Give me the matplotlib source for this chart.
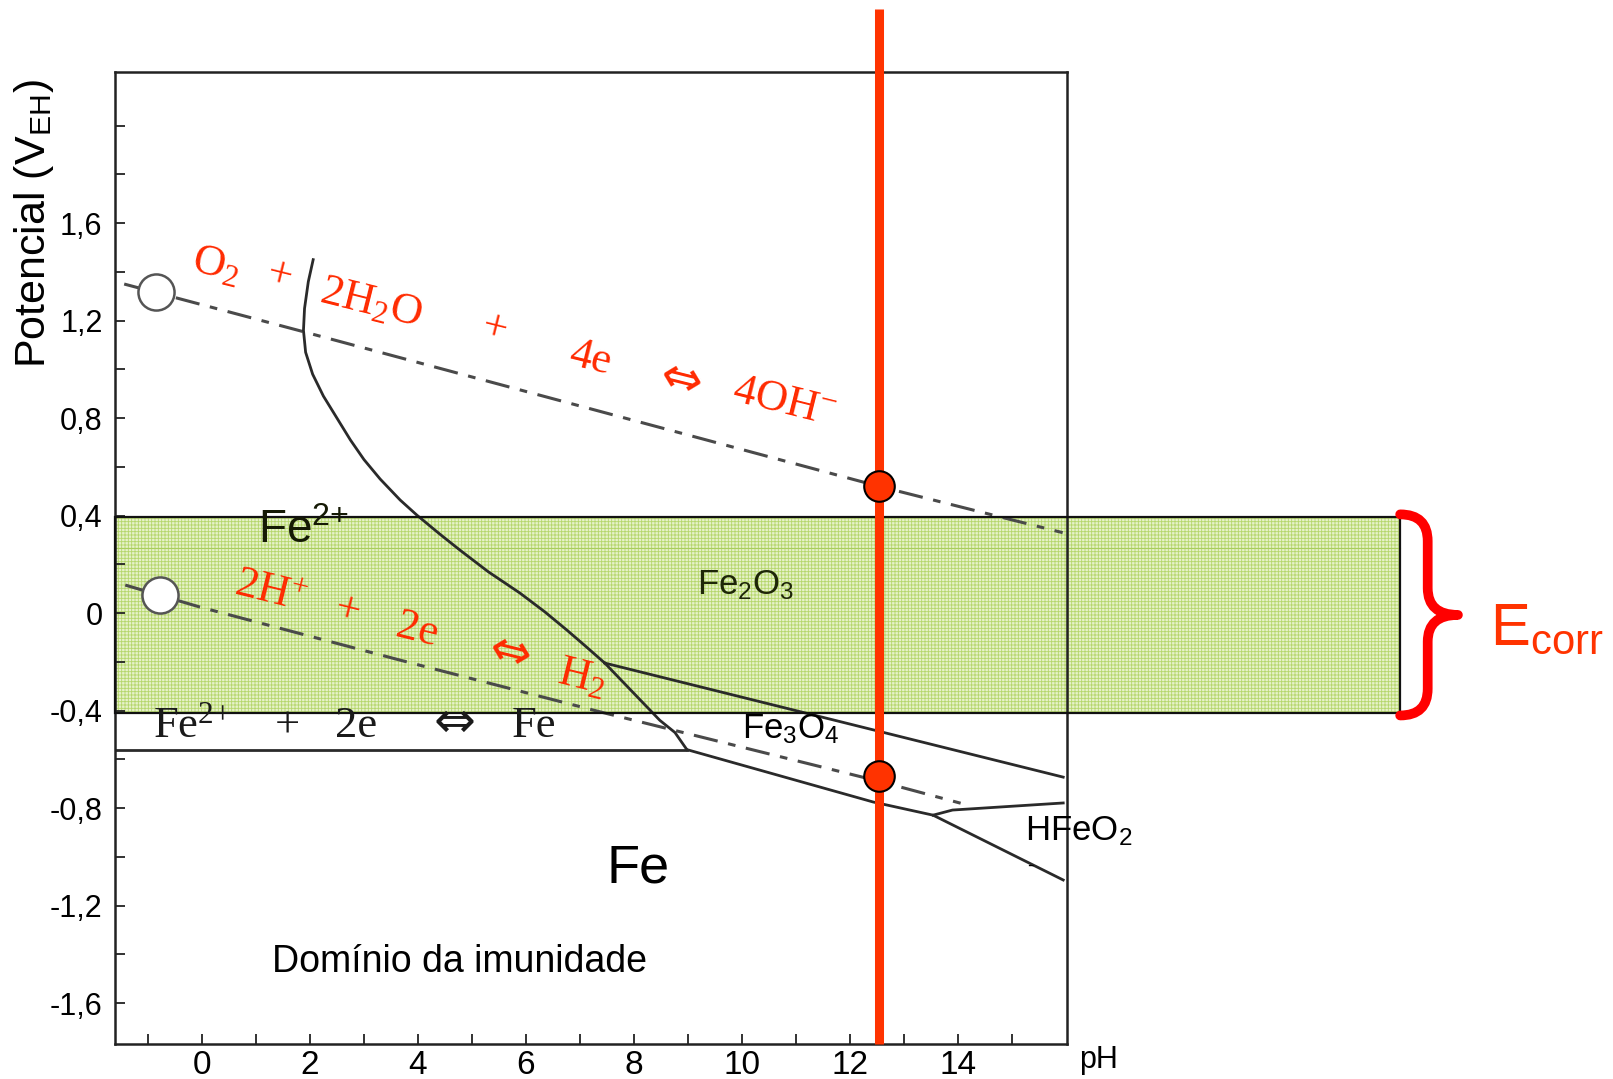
import matplotlib
matplotlib.use("Agg")
import matplotlib.pyplot as plt
from matplotlib.patches import Rectangle, PathPatch
from matplotlib.path import Path

# --- limites dos eixos ---
PH_MIN, PH_MAX = -1.61, 16.02
E_MIN, E_MAX = -1.768, 2.22

# linha O2 / H2O (tracejada)
ph_o2 = [-1.44, 1.87, 12.54, 15.94]
e_o2 = [1.35, 1.155, 0.52, 0.33]

# linha H+ / H2 (tracejada)
ph_h2 = [-1.42, -0.04, 3.67, 7.37, 12.54, 14.05]
e_h2 = [0.115, 0.025, -0.193, -0.405, -0.69, -0.78]

# circulos de referencia nas linhas da agua
ph_ref = [-0.85, -0.78]
e_ref = [1.317, 0.075]

# fronteira Fe2+ / Fe2O3
ph_fe2_fe2o3 = [2.06, 1.97, 1.90, 1.88, 1.92, 2.05, 2.25, 2.50, 2.75, 3.00,
                3.30, 3.67, 3.98, 4.40, 4.78, 5.30, 5.89, 6.35, 6.76, 7.10, 7.46]
e_fe2_fe2o3 = [1.45, 1.36, 1.25, 1.16, 1.07, 0.98, 0.89, 0.80, 0.71, 0.63,
               0.55, 0.464, 0.402, 0.325, 0.258, 0.17, 0.082, 0.005, -0.07,
               -0.135, -0.205]

# fronteira Fe2+ / Fe3O4
ph_fe2_fe3o4 = [7.46, 8.48, 8.76, 8.98]
e_fe2_fe3o4 = [-0.205, -0.44, -0.49, -0.56]

# fronteira Fe2+ / Fe
ph_fe2_fe = [PH_MIN, 8.98]
e_fe2_fe = [-0.56, -0.56]

# fronteira Fe2O3 / Fe3O4
ph_fe2o3_fe3o4 = [7.46, 15.95]
e_fe2o3_fe3o4 = [-0.205, -0.673]

# fronteira Fe3O4 / Fe
ph_fe3o4_fe = [8.98, 12.43, 13.54, 15.95]
e_fe3o4_fe = [-0.56, -0.775, -0.829, -1.095]

# fronteira Fe3O4 / HFeO2-
ph_fe3o4_hfeo2 = [13.54, 13.9, 15.95]
e_fe3o4_hfeo2 = [-0.829, -0.808, -0.779]

# faixa de Ecorr e pH do concreto
E_BAND = (-0.41, 0.395)
BAND_RIGHT = 22.19
PH_RED = 12.54
e_red_points = [0.52, -0.67]

x_ticks = [0, 2, 4, 6, 8, 10, 12, 14]
x_minor = [-1, 1, 3, 5, 7, 9, 11, 13, 15]
y_ticks = [-1.6, -1.2, -0.8, -0.4, 0, 0.4, 0.8, 1.2, 1.6]
y_labels = ["-1,6", "-1,2", "-0,8", "-0,4", "0", "0,4", "0,8", "1,2", "1,6"]
y_minor = [-1.4, -1.0, -0.6, -0.2, 0.2, 0.6, 1.0, 1.4, 1.8, 2.0]

# textos das reacoes (token, pH, E)
ARROW = "\u21d4"
o2_tokens = ["O$_2$", "+", "2H$_2$O", "+", "4e", ARROW, "4OH$^{-}$"]
o2_ph = [0.26, 1.43, 3.13, 5.41, 7.19, 8.87, 10.78]
o2_e = [1.428, 1.378, 1.272, 1.161, 1.046, 0.956, 0.866]

h2_tokens = ["2H$^{+}$", "+", "2e", ARROW, "H$_2$"]
h2_ph = [1.26, 2.70, 3.98, 5.70, 7.04]
h2_e = [0.086, 0.004, -0.07, -0.164, -0.263]

fe_tokens = ["Fe$^{2{+}}$", "+", "2e", ARROW, "Fe"]
fe_ph = [-0.91, 1.59, 2.46, 4.67, 5.74]
fe_ha = ["left", "center", "left", "center", "left"]
E_FE_TEXT = -0.509

plt.rcParams["mathtext.default"] = "regular"
plt.rcParams["font.family"] = ["Liberation Sans", "DejaVu Sans"]
plt.rcParams["hatch.linewidth"] = 0.6

SERIF = ["Liberation Serif", "DejaVu Serif"]
RED_TXT = "#ff2a00"
RED = "#ff3300"

fig = plt.figure(figsize=(16.13, 10.79), dpi=100)
ax = fig.add_axes([0.0713, 0.0324, 0.5902, 0.9009])
ax.set_xlim(PH_MIN, PH_MAX)
ax.set_ylim(E_MIN, E_MAX)

# --- faixa verde ---
band_h = E_BAND[1] - E_BAND[0]
ax.add_patch(Rectangle((PH_MIN, E_BAND[0]), BAND_RIGHT - PH_MIN, band_h,
                       facecolor="#e6f2c8", edgecolor="#b5d66c", hatch="+++++",
                       lw=0, clip_on=False, zorder=1))
ax.plot([PH_MIN, BAND_RIGHT], [0.265, 0.265], color="#a9cd5c", lw=0.8,
        clip_on=False, zorder=1.1)
ax.add_patch(Rectangle((PH_MIN, E_BAND[0]), BAND_RIGHT - PH_MIN, band_h,
                       fill=False, edgecolor="#111111", lw=1.6,
                       clip_on=False, zorder=3))

# --- linhas do diagrama ---
dash = (0, (8, 3.5, 2.5, 3.5))
ax.plot(ph_o2, e_o2, color="#4a4a4a", lw=2.2, linestyle=dash, zorder=2)
ax.plot(ph_h2, e_h2, color="#4a4a4a", lw=2.2, linestyle=dash, zorder=2)
ax.plot(ph_ref, e_ref, "o", ms=26, mfc="white", mec="#555555", mew=1.8, zorder=2.2)

solid = dict(color="#2a2a2a", lw=2.0, zorder=2)
ax.plot(ph_fe2_fe2o3, e_fe2_fe2o3, **solid)
ax.plot(ph_fe2_fe3o4, e_fe2_fe3o4, **solid)
ax.plot(ph_fe2_fe, e_fe2_fe, **solid)
ax.plot(ph_fe2o3_fe3o4, e_fe2o3_fe3o4, **solid)
ax.plot(ph_fe3o4_fe, e_fe3o4_fe, **solid)
ax.plot(ph_fe3o4_hfeo2, e_fe3o4_hfeo2, **solid)


def token(x, y, tok, color, rot, ha="center", va="center"):
    if tok == ARROW:
        ax.text(x, y, tok, family="DejaVu Sans", fontsize=36, color=color,
                rotation=rot, rotation_mode="anchor", ha="center", va=va, zorder=4)
    else:
        ax.text(x, y, tok, family=SERIF, fontsize=32, color=color,
                rotation=rot, rotation_mode="anchor", ha=ha, va=va, zorder=4)


# --- reacoes ---
for tok, x, y in zip(o2_tokens, o2_ph, o2_e):
    token(x, y, tok, RED_TXT, -14)
for tok, x, y in zip(h2_tokens, h2_ph, h2_e):
    token(x, y, tok, RED_TXT, -14)
for tok, x, h in zip(fe_tokens, fe_ph, fe_ha):
    token(x, E_FE_TEXT, tok, "#1a1a1a", 0, ha=h, va="baseline")

# --- nomes das especies ---
ax.text(1.04, 0.287, "Fe$^{2{+}}$", fontsize=33, color="#151a05", va="baseline", zorder=4)
ax.text(9.17, 0.078, "Fe$_2$O$_3$", fontsize=25, color="#1e2608", va="baseline", zorder=4)
ax.text(10.0, -0.513, "Fe$_3$O$_4$", fontsize=25, color="black", va="baseline", zorder=4)
ax.text(15.24, -0.931, "HFeO$_2$", fontsize=25, color="black", va="baseline",
        clip_on=False, zorder=4)
ax.text(15.28, -1.04, "-", fontsize=14, color="black", va="center", zorder=4)
ax.text(7.5, -1.104, "Fe", fontsize=39, color="black", va="baseline", zorder=4)
ax.text(1.30, -1.473, "Domínio da imunidade", fontsize=27, color="black",
        va="baseline", zorder=4)

# --- linha vermelha (pH do concreto) ---
ax.plot([PH_RED, PH_RED], [E_MIN, 2.48], color=RED, lw=6.5, clip_on=False,
        solid_capstyle="butt", zorder=5)
ax.plot([PH_RED] * len(e_red_points), e_red_points, "o", ms=22, mfc=RED,
        mec="black", mew=1.5, zorder=6)

# --- chave do Ecorr ---
x0, x1, x2 = BAND_RIGHT, 22.70, 23.26
top, bot = E_BAND[1] + 0.01, E_BAND[0] - 0.01
mid = (top + bot) / 2
r = 0.11
verts = [(x0, top), (x1, top), (x1, top - r),
         (x1, mid + r),
         (x1, mid), (x2, mid),
         (x1, mid), (x1, mid - r),
         (x1, bot + r),
         (x1, bot), (x0, bot)]
codes = [Path.MOVETO, Path.CURVE3, Path.CURVE3,
         Path.LINETO,
         Path.CURVE3, Path.CURVE3,
         Path.CURVE3, Path.CURVE3,
         Path.LINETO,
         Path.CURVE3, Path.CURVE3]
ax.add_patch(PathPatch(Path(verts, codes), fill=False, edgecolor="#ff0000",
                       lw=7, capstyle="round", joinstyle="round",
                       clip_on=False, zorder=5))
ax.text(23.85, -0.131, "E$_{corr}$", fontsize=43, color=RED, va="baseline",
        clip_on=False)

# --- eixos ---
ax.set_xticks(x_ticks)
ax.set_xticks(x_minor, minor=True)
ax.set_yticks(y_ticks)
ax.set_yticklabels(y_labels)
ax.set_yticks(y_minor, minor=True)
ax.tick_params(which="both", direction="in", length=7, width=1.3, color="#222222")
ax.tick_params(axis="x", labelsize=24, pad=4)
ax.tick_params(axis="y", labelsize=22, pad=9)
for s in ax.spines.values():
    s.set_linewidth(1.8)
    s.set_color("#222222")

ax.text(16.6, -0.0245, "pH", transform=ax.get_xaxis_transform(), fontsize=22,
        ha="center", va="baseline")
fig.text(0.021, 0.793, "Potencial (V$_{EH}$)", rotation=90, ha="center",
         va="center", fontsize=31)

fig.savefig("out.png", dpi=100)
